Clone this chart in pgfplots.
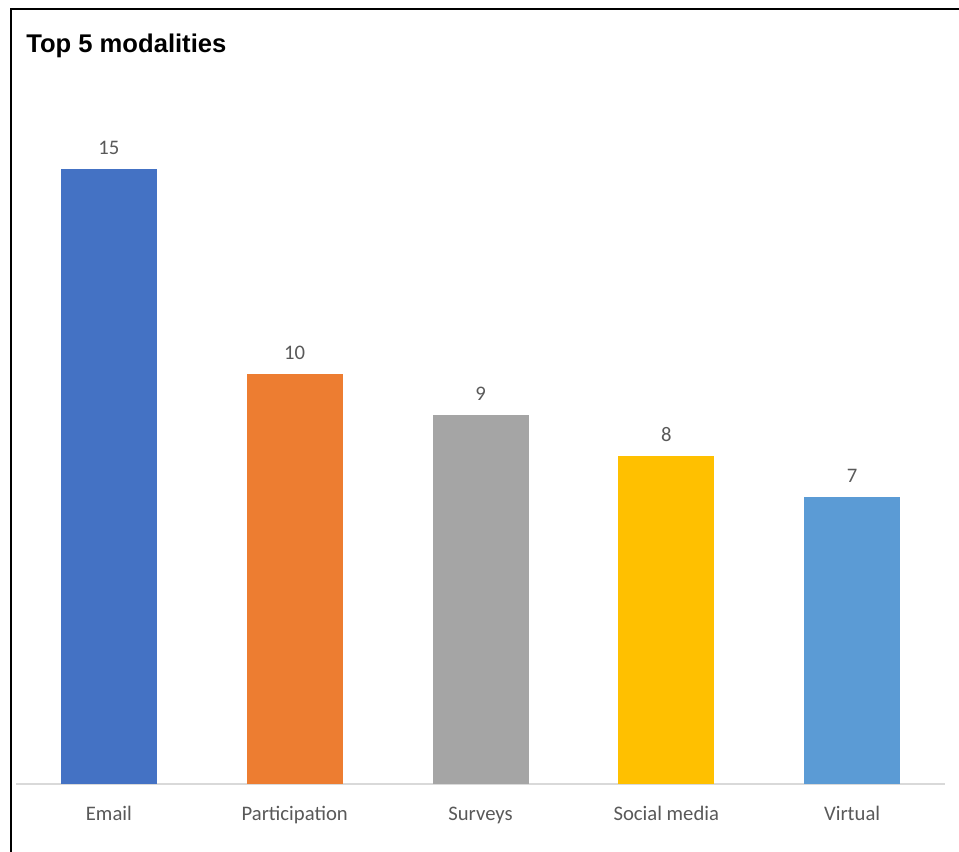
\documentclass[border=0pt]{standalone}
\usepackage{pgfplots}
\pgfplotsset{compat=1.18}
\usepackage{fontspec}
\setmainfont{Carlito}
\newfontfamily\titlefont{Liberation Sans}
\definecolor{cA}{HTML}{4472C4}
\definecolor{cB}{HTML}{ED7D31}
\definecolor{cC}{HTML}{A5A5A5}
\definecolor{cD}{HTML}{FFC000}
\definecolor{cE}{HTML}{5B9BD5}
\definecolor{txt}{HTML}{595959}
\begin{document}
\begin{tikzpicture}
\path[use as bounding box] (0pt,0pt) rectangle (719.25pt,639pt);
\draw[black, line width=1.5pt] (8.25pt,0pt) -- (8.25pt,632.25pt) -- (719.25pt,632.25pt);
\node[anchor=base west, inner sep=0pt, font=\titlefont\bfseries\fontsize{19.2}{22}\selectfont] at (19.5pt,599.25pt) {Top 5 modalities};
\begin{axis}[
  at={(12pt,51pt)}, anchor=south west,
  scale only axis, width=696.75pt, height=492pt,
  xmin=-0.5, xmax=4.5, ymin=0, ymax=16,
  enlargelimits=false,
  hide y axis,
  axis x line*=bottom,
  x axis line style={draw=black!15, line width=1.2pt, -},
  xtick={0,1,2,3,4},
  xticklabels={Email,Participation,Surveys,Social media,Virtual},
  xtick style={draw=none},
  xticklabel style={anchor=base, yshift=-23pt, font=\fontsize{15.5}{18}\selectfont, text=txt},
  ybar, bar width=72pt, bar shift=0pt,
  /pgf/number format/assume math mode=true,
  nodes near coords,
  nodes near coords style={anchor=base, yshift=10.5pt, font=\fontsize{15.5}{18}\selectfont, text=txt},
  clip=false,
]
\addplot[fill=cA, draw=none] coordinates {(0,15)};
\addplot[fill=cB, draw=none] coordinates {(1,10)};
\addplot[fill=cC, draw=none] coordinates {(2,9)};
\addplot[fill=cD, draw=none] coordinates {(3,8)};
\addplot[fill=cE, draw=none] coordinates {(4,7)};
\end{axis}
\end{tikzpicture}
\end{document}
